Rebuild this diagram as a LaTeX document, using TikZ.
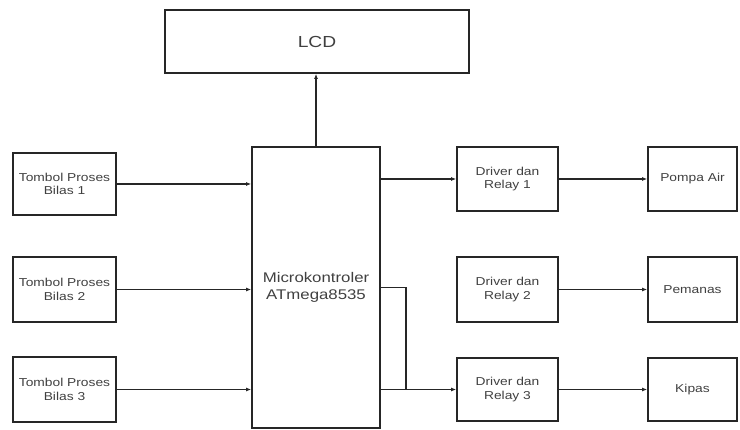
\documentclass[tikz,border=0pt]{standalone}
\usepackage{fontspec}
\setmainfont{Liberation Sans}[FakeStretch=1.2]
\usepackage{tikz}
\usetikzlibrary{arrows.meta, positioning, calc}

\begin{document}
\begin{tikzpicture}[x=1pt, y=-1pt,
  blok/.style={draw=black!85, line width=1.7pt, align=center, inner sep=1pt, text=black!75, font=\fontsize{11.5}{13.5}\selectfont},
  fleche/.style={line width=1.4pt, draw=black!85, -{Latex[length=5pt, width=4pt]}}
]
  \useasboundingbox (0,0) rectangle (740,430);
  % LCD et microkontroler
  \node[blok, minimum width=304pt, minimum height=63pt, font=\fontsize{16}{19}\selectfont] (lcd) at (317,41.5) {LCD};
  \node[blok, minimum width=128pt, minimum height=281pt, font=\fontsize{14}{17}\selectfont] (mcu) at (316,287.5) {Microkontroler\\ATmega8535};
  % Tombol
  \node[blok, minimum width=103pt, minimum height=62pt] (tb1) at (64.5,184) {Tombol Proses\\Bilas 1};
  \node[blok, minimum width=103pt, minimum height=65pt] (tb2) at (64.5,289.5) {Tombol Proses\\Bilas 2};
  \node[blok, minimum width=103pt, minimum height=65pt] (tb3) at (64.5,389.5) {Tombol Proses\\Bilas 3};
  % Driver dan relay
  \node[blok, minimum width=101pt, minimum height=64pt] (dr1) at (507.5,179) {Driver dan\\Relay 1};
  \node[blok, minimum width=101pt, minimum height=65pt] (dr2) at (507.5,289.5) {Driver dan\\Relay 2};
  \node[blok, minimum width=101pt, minimum height=63pt] (dr3) at (507.5,389.5) {Driver dan\\Relay 3};
  % Beban
  \node[blok, minimum width=89pt, minimum height=64pt] (pompa) at (692.5,179) {Pompa Air};
  \node[blok, minimum width=89pt, minimum height=65pt] (pemanas) at (692.5,289.5) {Pemanas};
  \node[blok, minimum width=89pt, minimum height=63pt] (kipas) at (692.5,389.5) {Kipas};
  % Masukan
  \foreach \i in {1,2,3}
    \draw[fleche] (tb\i.east) -- (tb\i.east -| mcu.west);
  % Keluaran
  \draw[fleche] (mcu.north) -- (mcu.north |- lcd.south);
  \draw[fleche] (dr1.west -| mcu.east) -- (dr1.west);
  \draw[fleche] (dr3.west -| mcu.east) -- (dr3.west);
  \coordinate (cab) at (406,0);
  \draw[line width=1.4pt, draw=black!85] (mcu.east) -- (mcu.east -| cab) -- (dr3.west -| cab);
  \draw[fleche] (dr1) -- (pompa);
  \draw[fleche] (dr2) -- (pemanas);
  \draw[fleche] (dr3) -- (kipas);
\end{tikzpicture}
\end{document}
